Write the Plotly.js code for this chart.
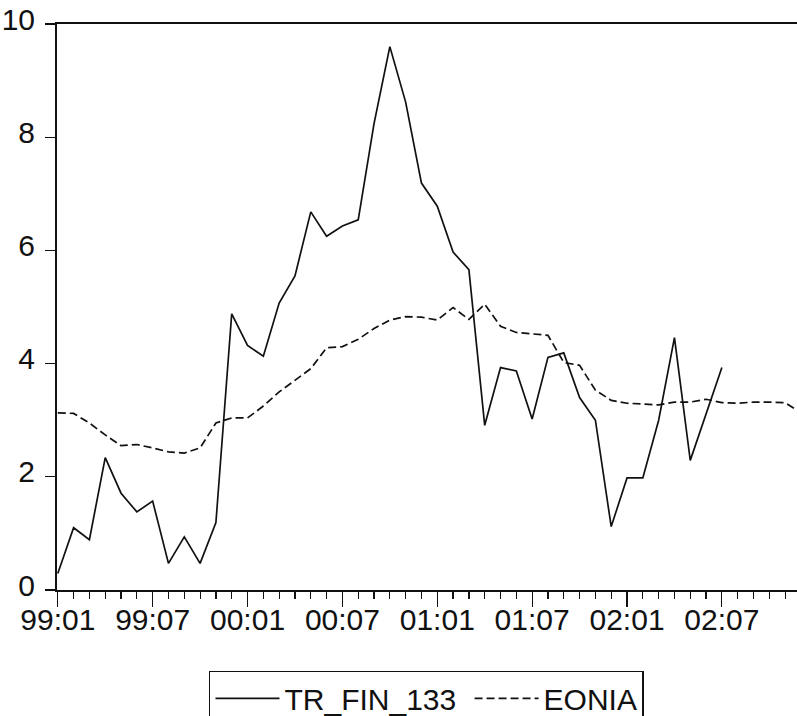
<!DOCTYPE html>
<html>
<head>
<meta charset="utf-8">
<script src="https://cdn.plot.ly/plotly-3.0.1.min.js"></script>
<style>html,body{margin:0;padding:0;background:#fff;}#chart{width:797px;height:716px;}</style>
</head>
<body>
<div id="chart"></div>
<script>
// Monthly periods 1999:01 .. 2002:12
const months = [
  "99:01","99:02","99:03","99:04","99:05","99:06","99:07","99:08","99:09","99:10","99:11","99:12",
  "00:01","00:02","00:03","00:04","00:05","00:06","00:07","00:08","00:09","00:10","00:11","00:12",
  "01:01","01:02","01:03","01:04","01:05","01:06","01:07","01:08","01:09","01:10","01:11","01:12",
  "02:01","02:02","02:03","02:04","02:05","02:06","02:07","02:08","02:09","02:10","02:11","02:12"
];
const tickLabels = ["99:01","99:07","00:01","00:07","01:01","01:07","02:01","02:07"];

const trFin133 = [
  0.29, 1.10, 0.89, 2.34, 1.71, 1.38, 1.57, 0.47, 0.94, 0.47, 1.19, 4.88,
  4.32, 4.13, 5.07, 5.55, 6.68, 6.25, 6.43, 6.54, 8.24, 9.60, 8.62, 7.19,
  6.78, 5.97, 5.66, 2.91, 3.93, 3.87, 3.02, 4.11, 4.19, 3.40, 3.00, 1.12,
  1.98, 1.98, 3.00, 4.46, 2.29, 3.10, 3.93
];
const eonia = [
  3.13, 3.12, 2.95, 2.74, 2.55, 2.57, 2.51, 2.44, 2.42, 2.51, 2.95, 3.04,
  3.04, 3.25, 3.50, 3.71, 3.91, 4.28, 4.30, 4.43, 4.62, 4.77, 4.83, 4.82,
  4.77, 4.99, 4.78, 5.05, 4.66, 4.55, 4.52, 4.50, 4.02, 3.97, 3.53, 3.35,
  3.30, 3.29, 3.27, 3.32, 3.32, 3.37, 3.31, 3.30, 3.32, 3.32, 3.31, 3.13
];

const idx = months.map((m, i) => i);
const tickIdx = tickLabels.map(t => months.indexOf(t));

const FONT = '"Liberation Sans", Arial, Helvetica, sans-serif';

const traces = [
  {
    x: idx.slice(0, trFin133.length), y: trFin133, name: 'TR_FIN_133\u00a0',
    type: 'scatter', mode: 'lines',
    line: {color: '#111', width: 1.7}
  },
  {
    x: idx.slice(0, eonia.length), y: eonia, name: 'EONIA',
    type: 'scatter', mode: 'lines',
    line: {color: '#111', width: 1.7, dash: '8px,4px'}
  }
];

const layout = {
  width: 797, height: 716,
  paper_bgcolor: '#fff', plot_bgcolor: '#fff',
  margin: {l: 57, r: 0, t: 24, b: 126, autoexpand: false},
  font: {family: FONT, size: 30, color: '#111'},
  showlegend: true,
  legend: {
    orientation: 'h', x: 0.2054, xanchor: 'left', y: -0.143, yanchor: 'top',
    bordercolor: '#111', borderwidth: 1.5, bgcolor: '#fff',
    font: {family: FONT, size: 30, color: '#111'},
    itemwidth: 64, traceorder: 'normal'
  },
  xaxis: {
    range: [-0.05, 46.75], showgrid: false, zeroline: false,
    showline: true, linecolor: '#111', linewidth: 2, mirror: true,
    tickmode: 'array', tickvals: tickIdx, ticktext: tickLabels,
    ticks: 'outside', ticklen: 15, tickwidth: 1.2, tickcolor: '#111',
    ticklabelstandoff: -13,
    minor: {dtick: 1, tick0: 0, ticks: 'outside', ticklen: 7, tickwidth: 1.2, tickcolor: '#111', showgrid: false},
    tickfont: {family: FONT, size: 30, color: '#111'}
  },
  yaxis: {
    range: [0, 10], showgrid: false, zeroline: false,
    showline: true, linecolor: '#111', linewidth: 2, mirror: false,
    tickvals: [0, 2, 4, 6, 8, 10],
    ticks: 'outside', ticklen: 10, tickwidth: 1.2, tickcolor: '#111',
    ticklabelstandoff: 4, ticklabelshift: -5,
    tickfont: {family: FONT, size: 30, color: '#111'}
  }
};

Plotly.newPlot('chart', traces, layout, {staticPlot: true, displayModeBar: false});
</script>
</body>
</html>
